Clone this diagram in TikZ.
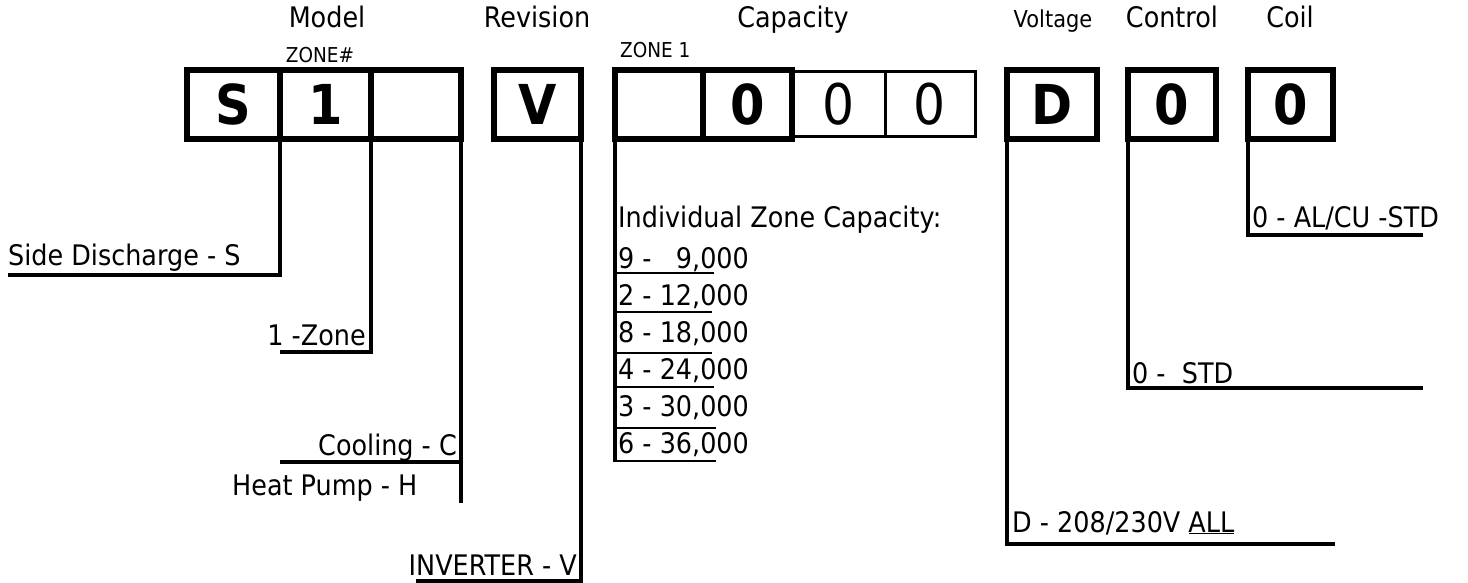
\documentclass[tikz,border=0pt]{standalone}
\usepackage{fontspec}
\setmainfont{DejaVu Sans}[FakeStretch=0.9]
\usetikzlibrary{positioning}

\begin{document}
\begin{tikzpicture}[x=1pt, y=-1pt,
  digit/.style={rectangle, draw=black, line width=6pt, inner sep=0pt, outer sep=0pt,
                minimum height=69pt, font=\fontsize{55}{60}\selectfont\bfseries},
  thindigit/.style={digit, line width=3pt, minimum height=65pt, font=\fontsize{56}{60}\selectfont},
  lead/.style={draw, line width=4pt},
  underl/.style={draw, line width=2pt},
  header/.style={anchor=base, inner sep=0pt, font=\fontsize{28.3}{32}\selectfont},
  small/.style={anchor=base, inner sep=0pt, font=\fontsize{20.5}{24}\selectfont},
  choice/.style={inner sep=0pt, font=\fontsize{28.3}{32}\selectfont}
]
\useasboundingbox (0,0) rectangle (1468,583);

% ==========================================================
% Headers
% ==========================================================
\node[header] (hModel) at (327,28) {Model};
\node[header] (hRev) at (537,28) {Revision};
\node[header] (hCap) at (793,28) {Capacity};
\node[header, font=\fontsize{23.3}{26}\selectfont] (hVolt) at (1053,28) {Voltage};
\node[header] (hCtl) at (1172,28) {Control};
\node[header] (hCoil) at (1290,28) {Coil};
\node[small] (hZone) at (320,63) {ZONE\#};
\node[small, anchor=base west] (hZone1) at (620,58) {ZONE 1};

% ==========================================================
% Code boxes
% ==========================================================
\node[digit, minimum width=93pt] (boxS) at (233.5,104.5) {S};
\node[digit, minimum width=91pt] (boxZone) at (325.5,104.5) {1};
\node[digit, minimum width=90pt] (boxType) at (416,104.5) {};
\node[digit, minimum width=87pt] (boxRev) at (537.5,104.5) {V};
\node[thindigit, minimum width=93pt] (capC) at (838.5,104.5) {0};
\node[thindigit, minimum width=90pt] (capD) at (930,104.5) {0};
\node[digit, minimum width=88pt] (capA) at (659,104.5) {};
\node[digit, minimum width=89pt] (capB) at (747.5,104.5) {0};
\node[digit, minimum width=90pt] (boxVolt) at (1052,104.5) {D};
\node[digit, minimum width=88pt] (boxCtl) at (1172,104.5) {0};
\node[digit, minimum width=85pt] (boxCoil) at (1290.5,104.5) {0};

% ==========================================================
% Leader lines
% ==========================================================
\coordinate (sideEnd) at (8,275);
\coordinate (zoneEnd) at (280,352);
\coordinate (typeEnd) at (461,503);
\coordinate (coolEnd) at (280,462);
\coordinate (invEnd) at (416,581);
\coordinate (capEnd) at (615,462);
\coordinate (voltEnd) at (1335,544);
\coordinate (ctlEnd) at (1423,388);
\coordinate (coilEnd) at (1423,235);

\draw[lead] (boxS.south east) |- (sideEnd);
\draw[lead] (boxZone.south east) |- (zoneEnd);
\draw[lead] (boxType.south east) -- (typeEnd);
\draw[lead] (coolEnd) -- (coolEnd -| boxType.east);
\draw[lead] (boxRev.south east) |- (invEnd);
\draw[lead] (capA.south west) -- (capEnd);
\draw[lead] (boxVolt.south west) |- (voltEnd);
\draw[lead] (boxCtl.south west) |- (ctlEnd);
\draw[lead] (boxCoil.south west) |- (coilEnd);

% ==========================================================
% Options
% ==========================================================
\node[choice, anchor=base west] (sideLbl) at (8,265) {Side Discharge - S};
\node[choice, anchor=base east] (zoneLbl) at (366,345) {1 -Zone};
\node[choice, anchor=base east] (coolLbl) at (457,455) {Cooling - C};
\node[choice, anchor=base west] (hpLbl) at (232,495) {Heat Pump - H};
\node[choice, anchor=base east] (invLbl) at (577,575) {INVERTER - V};

\node[choice, anchor=base west] (capTitle) at (618,227) {Individual Zone Capacity:};
\foreach \code/\size [count=\i] in {9/\phantom{1}9, 2/12, 8/18, 4/24, 3/30, 6/36}
  \node[choice, anchor=base west] (cap\i) at (618,231+37*\i) {\code\ - \size,000};
\foreach \y/\w in {273/714, 312/712, 353/712, 387/714, 428/716, 461/716}
  \draw[underl] (capEnd |- 0,\y) -- (\w,\y);

\node[choice, anchor=base west] (coilLbl) at (1252,227) {0 - AL/CU -STD};
\node[choice, anchor=base west] (ctlLbl) at (1132,383) {0 -\ \ STD};
\node[choice, anchor=base west] (voltLbl) at (1012,532) {D - 208/230V \underline{ALL}};

\end{tikzpicture}
\end{document}
